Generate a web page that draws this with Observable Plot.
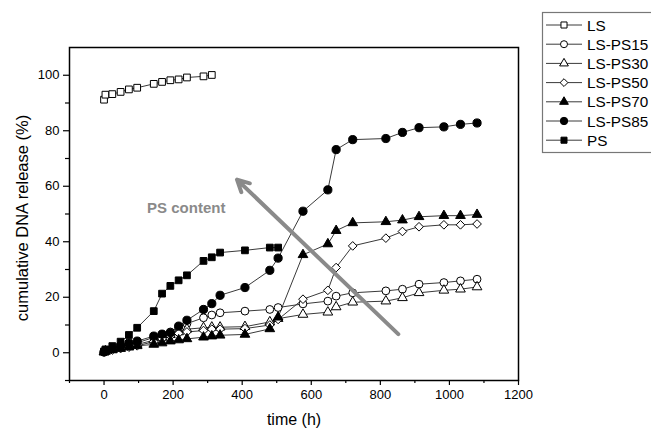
<!DOCTYPE html>
<html><head><meta charset="utf-8">
<script src="https://cdn.jsdelivr.net/npm/d3@7"></script>
<script src="https://cdn.jsdelivr.net/npm/@observablehq/plot@0.6"></script>
<style>
body{margin:0;background:#fff;}
#wrap{position:relative;width:651px;height:430px;overflow:hidden;font-family:"Liberation Sans",Arial,sans-serif;background:#fff;}
.ttl{position:absolute;font-size:16px;color:#000;white-space:nowrap;}
</style></head><body><div id="wrap"></div>
<script>
// ---- data ----
const timesLS = [0,4,24,48,72,96,144,168,192,216,240,288,312];
const valuesLS = [91.2,93.0,93.2,94.0,94.9,95.5,96.9,97.6,98.2,98.5,99.2,99.6,100.1];
const timesLong = [0,4,24,48,72,96,144,168,192,216,240,288,312,336,408,480,504,576,648,672,720,816,864,912,984,1032,1080];
const valuesPS15 = [0.3,0.6,1.5,2.5,3.0,3.6,5.5,6.5,7.5,9.0,10.5,12.6,13.6,14.4,15.0,15.6,16.3,17.6,18.6,20.4,21.6,22.3,22.9,24.7,25.3,25.9,26.5];
const valuesPS30 = [0.3,0.6,1.2,2.0,2.5,3.0,4.5,5.5,6.5,7.5,8.5,9.0,9.2,9.2,9.4,11.1,12.3,13.8,14.6,16.5,18.2,18.6,19.8,21.6,22.5,22.9,23.7];
const valuesPS50 = [0.2,0.5,1.0,1.5,2.0,2.5,4.0,5.0,6.0,7.0,7.5,8.0,8.5,8.5,8.7,10.0,12.0,19.3,22.5,30.7,38.5,41.3,43.7,45.4,46.1,46.1,46.4];
const valuesPS70 = [0.2,0.5,1.0,1.5,2.0,2.5,3.0,3.5,4.2,4.6,5.0,5.6,6.0,6.3,6.6,8.6,12.8,35.3,39.2,44.0,46.8,47.2,47.8,49.0,49.4,49.4,49.8];
const valuesPS85 = [0.3,0.8,1.5,2.5,3.5,4.2,6.0,6.7,7.2,9.6,11.7,15.6,17.7,20.7,23.5,29.7,34.1,51.0,58.7,73.2,76.8,77.2,79.4,81.1,81.4,82.3,82.8];
const timesPS = [0,4,24,48,72,96,144,168,192,216,240,288,312,336,408,480,504];
const valuesPS = [0.5,1.2,2.4,4.0,6.4,9.0,15.0,21.3,24.1,26.1,27.9,33.1,34.4,36.1,36.9,37.9,37.9];

const seriesNames = ["LS","LS-PS15","LS-PS30","LS-PS50","LS-PS70","LS-PS85","PS"];
const seriesSymbols = ["square","circle","triangle","diamond2","triangle","circle","square"];
const seriesFills = ["white","white","white","white","black","black","black"];
const seriesRadius = [3.8,3.9,3.6,3.9,3.6,4.1,3.8];
const seriesTimes = [timesLS,timesLong,timesLong,timesLong,timesLong,timesLong,timesPS];
const seriesValues = [valuesLS,valuesPS15,valuesPS30,valuesPS50,valuesPS70,valuesPS85,valuesPS];

const xMajor = [0,200,400,600,800,1000,1200];
const xMinor = [-100,100,300,500,700,900,1100];
const yMajor = [0,20,40,60,80,100];
const yMinor = [-10,10,30,50,70,90];

const arrowData = [{x1:852,y1:6.7,x2:385,y2:62.4}];
const noteText = ["PS content"];
const noteX = [238];
const noteY = [52];

// ---- build ----
const series = seriesNames.map((name,i)=>({
  name, symbol: seriesSymbols[i], fill: seriesFills[i], r: seriesRadius[i],
  data: seriesTimes[i].map((t,j)=>({t, v: seriesValues[i][j]}))
}));

const fmt = d3.format("d");
const marks = [];
for (const s of series) {
  marks.push(Plot.line(s.data,{x:"t",y:"v",stroke:"#3a3a3a",strokeWidth:1}));
}
for (const s of series) {
  marks.push(Plot.dot(s.data,{x:"t",y:"v",symbol:()=>s.symbol,r:s.r,fill:s.fill,stroke:"black",strokeWidth:1}));
}
marks.push(Plot.arrow(arrowData,{x1:"x1",y1:"y1",x2:"x2",y2:"y2",stroke:"#8a8a8a",strokeWidth:4,headLength:5,headAngle:55}));
marks.push(Plot.text(noteText.map((t,i)=>({t,x:noteX[i],y:noteY[i]})),{x:"x",y:"y",text:"t",fill:"#8a8a8a",fontWeight:"bold",fontSize:15}));
marks.push(Plot.axisX(xMajor,{tickSize:5,tickPadding:4,label:null,tickFormat:fmt,stroke:"black",strokeWidth:1.2,fontSize:13}));
marks.push(Plot.axisX(xMinor,{tickSize:3,tickFormat:()=>"",label:null,stroke:"black",strokeWidth:1.2}));
marks.push(Plot.axisY(yMajor,{tickSize:6,tickPadding:4,label:null,tickFormat:fmt,stroke:"black",strokeWidth:1.2,fontSize:13}));
marks.push(Plot.axisY(yMinor,{tickSize:4,tickFormat:()=>"",label:null,stroke:"black",strokeWidth:1.2}));
marks.push(Plot.frame({stroke:"black",strokeWidth:1.5}));

const chart = Plot.plot({
  width:651, height:430,
  marginLeft:69, marginRight:133, marginTop:47, marginBottom:50,
  x:{domain:[-100,1200]},
  y:{domain:[-10,110]},
  style:{fontFamily:"'Liberation Sans', Arial, sans-serif", fontSize:"13px", color:"black", background:"white", overflow:"visible"},
  marks
});
const wrap = document.getElementById("wrap");
wrap.appendChild(chart);

// axis titles
const xt = document.createElement("div");
xt.className="ttl"; xt.textContent="time (h)";
xt.style.left="294px"; xt.style.top="420px"; xt.style.transform="translate(-50%,-50%)";
wrap.appendChild(xt);
const yt = document.createElement("div");
yt.className="ttl"; yt.textContent="cumulative DNA release (%)";
yt.style.fontSize="16.5px";
yt.style.left="22px"; yt.style.top="218px"; yt.style.transform="translate(-50%,-50%) rotate(-90deg)";
wrap.appendChild(yt);

// legend
const lg = d3.select(wrap).append("svg").attr("width",651).attr("height",430)
  .style("position","absolute").style("left","0").style("top","0").style("pointer-events","none");
lg.append("rect").attr("x",542.5).attr("y",12.5).attr("width",130).attr("height",140)
  .attr("fill","white").attr("stroke","#777").attr("stroke-width",1.2);
const symMap = {square:d3.symbolSquare,circle:d3.symbolCircle,triangle:d3.symbolTriangle,diamond2:d3.symbolDiamond2};
series.forEach((s,i)=>{
  const cy = 25 + i*19.2;
  const g = lg.append("g");
  g.append("line").attr("x1",546).attr("x2",582).attr("y1",cy).attr("y2",cy).attr("stroke","#3a3a3a").attr("stroke-width",1);
  g.append("path").attr("d",d3.symbol(symMap[s.symbol], Math.PI*(s.r*0.9)**2)())
    .attr("transform",`translate(564,${cy})`).attr("fill",s.fill).attr("stroke","black").attr("stroke-width",1);
  g.append("text").attr("x",587).attr("y",cy+5.5).attr("font-size",15.3)
    .attr("font-family","'Liberation Sans', Arial, sans-serif").text(s.name);
});
</script></body></html>
